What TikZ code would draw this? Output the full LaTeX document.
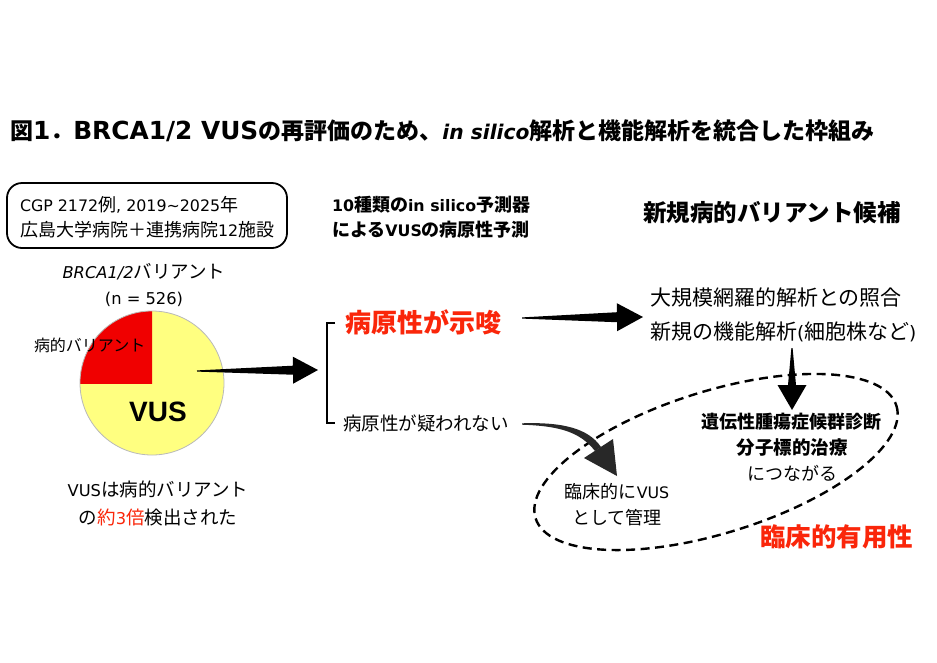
\documentclass[tikz,border=0pt]{standalone}
\usepackage{fontspec}
\setmainfont{Noto Sans CJK JP}
\newfontfamily\lat{DejaVu Sans}[Scale=0.88]
\newfontfamily\latw{DejaVu Sans}[Scale=1.08]
\newfontfamily\arialf{Liberation Sans}
\usetikzlibrary{calc}
\definecolor{vred}{RGB}{250,38,10}
\definecolor{pyel}{RGB}{255,255,128}
\definecolor{pred}{RGB}{240,0,0}
\definecolor{cgray}{RGB}{40,40,40}
\newcommand\taperarrow[5]{%
  \coordinate (tmpb) at ($(#2)!#3!(#1)$);
  \fill ($(#1)!0.6pt!90:(#2)$) -- ($(tmpb)!#5!90:(#2)$) -- ($(tmpb)!#4!90:(#2)$) -- (#2)
        -- ($(tmpb)!#4!-90:(#2)$) -- ($(tmpb)!#5!-90:(#2)$) -- ($(#1)!0.6pt!-90:(#2)$) -- cycle;}
\begin{document}
\begin{tikzpicture}[x=1pt,y=-1pt,
  every node/.style={inner sep=0pt,outer sep=0pt},
  tl/.style={anchor=west},
  fs16/.style={font=\fontsize{16}{20}\selectfont},
  fs18/.style={font=\fontsize{18}{22}\selectfont},
  fs185/.style={font=\fontsize{18.5}{22}\selectfont},
  fs21/.style={font=\fontsize{21}{25}\selectfont},
  fs18b/.style={font=\fontsize{18}{22}\selectfont\bfseries},
  fs185b/.style={font=\fontsize{18.5}{22}\selectfont\bfseries},
  fs23b/.style={font=\fontsize{23}{27}\selectfont\bfseries},
  fs235b/.style={font=\fontsize{23.5}{27}\selectfont\bfseries},
  fs26b/.style={font=\fontsize{26}{29}\selectfont\bfseries},
  fs25b/.style={font=\fontsize{25.5}{29}\selectfont\bfseries},
  ell/.style={draw=black,line width=2.4pt,dash pattern=on 9pt off 5.5pt},
]
\useasboundingbox[fill=white] (0,0) rectangle (937,662);

% title
\node[tl,fs23b] (title) at (10,131) {図{\latw 1}．{\latw BRCA1/2 VUS}の再評価のため、{\lat\itshape in silico}解析と機能解析を統合した枠組み};

% info box
\node[draw,rounded corners=15pt,line width=1.8pt,minimum width=280pt,minimum height=65pt] (box) at (147,215.5) {};
\node[tl,fs18] (b1) at (20,205) {{\lat CGP 2172}例{\lat , 2019\string~2025}年};
\node[tl,fs18] (b2) at (20,230) {広島大学病院＋連携病院{\lat 12}施設};

% predictor header
\node[tl,fs18b] (p1) at (332,205) {{\lat 10}種類の{\lat in silico}予測器};
\node[tl,fs18b] (p2) at (332,230) {による{\lat VUS}の病原性予測};

\node[tl,fs235b] (nv) at (643,213) {新規病的バリアント候補};

% pie
\node[fs185] (brca) at (144,272) {{\lat\itshape BRCA1/2}バリアント};
\node[fs185] (ncount) at (144,299) {{\lat (n = 526)}};
\node[circle,minimum size=144pt,fill=pyel] (pie) at (152,383) {};
\begin{scope}
  \clip (80,311) rectangle (152,383);
  \fill[pred] (pie.center) circle (72);
\end{scope}
\draw[gray!55,line width=0.8pt] (pie.center) circle (72);
\node[tl,fs16] (pv) at (34,345) {病的バリアント};
\node[font=\arialf\bfseries\fontsize{28}{30}\selectfont] (vus) at (158,412) {VUS};
\node[fs185] (c1) at (158,489) {{\lat VUS}は病的バリアント};
\node[fs185] (c2) at (158,517) {の\textcolor{vred}{約{\lat 3}倍}検出された};

% arrow pie -> bracket
\coordinate (a1s) at (197,371);
\coordinate (a1t) at (318,370);
\taperarrow{a1s}{a1t}{25pt}{13.5pt}{4.5pt}

% bracket
\coordinate (bt) at (335,323);
\coordinate (bb) at (335,423);
\draw[line width=2pt] (bt) -- ++(-8,0) |- (bb);
\node[tl,fs26b,text=vred] (sug) at (345,322) {病原性が示唆};
\node[tl,fs185] (nsug) at (343,423) {病原性が疑われない};

% arrow suggest -> analysis
\coordinate (a2s) at (522,318);
\coordinate (a2t) at (643,317);
\taperarrow{a2s}{a2t}{26pt}{14pt}{5pt}

\node[tl,fs21] (r1) at (650,298) {大規模網羅的解析との照合};
\node[tl,fs21] (r2) at (650,332) {新規の機能解析{\lat (}細胞株など{\lat )}};

% dashed ellipse
\draw[ell,rotate around={17.3:(716,462)}] (716,462) ellipse [x radius=189, y radius=71];

% down arrow
\coordinate (a3s) at (792,348);
\coordinate (a3t) at (792,410);
\taperarrow{a3s}{a3t}{25pt}{14.5pt}{4pt}

% curved arrow
\coordinate (cs1) at (522,423.3);
\coordinate (cs2) at (522,424.7);
\coordinate (ce1) at (601,447);
\coordinate (ce2) at (595,451);
\fill[cgray] (cs1) .. controls (562,422) and (588,428) .. (ce1) -- (ce2) .. controls (580,432) and (560,426) .. (cs2) -- cycle;
\coordinate (ch1) at (584,458);
\coordinate (ch2) at (613,439);
\coordinate (cht) at (617,476);
\fill[cgray] (ch1) -- (ch2) -- (cht) -- cycle;

\node[fs18b] (d1) at (791,422) {遺伝性腫瘍症候群診断};
\node[fs185b] (d2) at (792,448) {分子標的治療};
\node[fs18] (d3) at (792,473) {につながる};
\node[fs18] (m1) at (617,492) {臨床的に{\lat VUS}};
\node[fs18] (m2) at (617,518) {として管理};
\node[tl,fs25b,text=vred] (cu) at (760,537) {臨床的有用性};
\end{tikzpicture}
\end{document}
